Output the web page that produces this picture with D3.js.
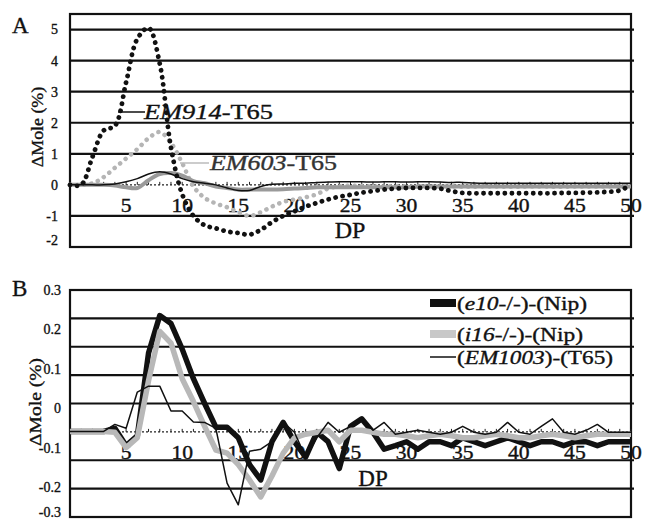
<!DOCTYPE html>
<html>
<head>
<meta charset="utf-8">
<script src="https://cdn.jsdelivr.net/npm/d3@7"></script>
<style>
  body { margin: 0; background: #fff; }
  text { font-family: "Liberation Serif", "Times New Roman", serif; fill: #111; stroke: #111; stroke-width: 0.35px; }
</style>
</head>
<body>
<svg id="chart" width="645" height="522"></svg>
<script>
// DP 0..50
var dp = d3.range(0, 51);
var xTicks = [5, 10, 15, 20, 25, 30, 35, 40, 45, 50];

// panel A, Δ mole %
var em914 = [0, 0, 0.9, 1.75, 1.9, 3.3, 4.7, 5.05, 3.9, 1.2,
  -0.3, -1.0, -1.3, -1.4, -1.5, -1.55, -1.6, -1.45, -1.2, -1.0,
  -0.85, -0.7, -0.58, -0.47, -0.38, -0.32, -0.25, -0.2, -0.15, -0.12,
  -0.1, -0.1, -0.1, -0.12, -0.2, -0.26, -0.27, -0.27, -0.27, -0.27,
  -0.27, -0.27, -0.27, -0.27, -0.26, -0.26, -0.25, -0.24, -0.22, -0.18, 0];
var em603 = [0, 0, 0.05, 0.25, 0.55, 0.85, 1.15, 1.5, 1.7, 1.35,
  0.7, -0.05, -0.42, -0.6, -0.72, -0.88, -1.0, -0.88, -0.7, -0.55,
  -0.47, -0.4, -0.3, -0.12, -0.05, -0.03, -0.04, -0.05, -0.05, -0.04,
  -0.05, -0.05, -0.06, -0.05, -0.05, -0.06, -0.06, -0.05, -0.05, -0.06,
  -0.06, -0.05, -0.05, -0.06, -0.06, -0.05, -0.05, -0.05, -0.05, -0.04, -0.03];
var aBlack = [0, 0, 0, 0, 0.03, 0.1, 0.2, 0.35, 0.42, 0.35,
  0.2, 0.1, 0.05, 0, -0.1, -0.18, -0.18, -0.05, 0.02, 0.03,
  0.05, 0.05, 0.08, 0.09, 0.1, 0.1, 0.1, 0.09, 0.1, 0.1,
  0.09, 0.1, 0.1, 0.09, 0.08, 0.08, 0.06, 0.05, 0.05, 0.05,
  0.05, 0.05, 0.05, 0.05, 0.05, 0.05, 0.05, 0.05, 0.05, 0.05, 0.05];
var aGray = [0, 0, 0, 0, -0.02, -0.08, -0.1, 0.15, 0.35, 0.38,
  0.3, 0.12, 0.05, -0.05, -0.1, -0.15, -0.15, -0.15, -0.15, -0.14,
  -0.12, -0.1, -0.08, -0.08, -0.08, -0.08, -0.08, -0.08, -0.08, -0.08,
  -0.08, -0.05, -0.05, -0.05, -0.05, -0.05, -0.05, -0.05, -0.05, -0.05,
  -0.05, -0.05, -0.05, -0.05, -0.05, -0.05, -0.05, -0.05, -0.05, -0.05, -0.05];
var yTicksA = [5, 4, 3, 2, 1, 0, -1, -2];
var gridA = [5, 4, 3, 2, 1, -1];

// panel B, Δ mole %
var e10 = [-0.059, -0.059, -0.059, -0.059, -0.051, -0.095, -0.07, 0.14, 0.235, 0.215,
  0.15, 0.075, 0.012, -0.048, -0.048, -0.075, -0.143, -0.182, -0.085, -0.036,
  -0.085, -0.124, -0.061, -0.085, -0.153, -0.046, -0.027, -0.061, -0.104, -0.095,
  -0.085, -0.104, -0.085, -0.085, -0.095, -0.075, -0.085, -0.095, -0.085, -0.075,
  -0.085, -0.095, -0.085, -0.085, -0.095, -0.085, -0.085, -0.095, -0.085, -0.085, -0.085];
var i16 = [-0.059, -0.059, -0.059, -0.059, -0.061, -0.1, -0.075, 0.07, 0.195, 0.165,
  0.075, 0.017, -0.046, -0.106, -0.114, -0.143, -0.182, -0.225, -0.172, -0.114,
  -0.075, -0.066, -0.061, -0.056, -0.085, -0.056, -0.056, -0.061, -0.066, -0.066,
  -0.07, -0.075, -0.07, -0.066, -0.07, -0.075, -0.075, -0.07, -0.066, -0.07,
  -0.075, -0.075, -0.07, -0.066, -0.07, -0.075, -0.07, -0.066, -0.066, -0.066, -0.066];
var em1003 = [-0.059, -0.059, -0.059, -0.059, -0.041, -0.051, 0.041, 0.056, 0.056, -0.007,
  -0.007, -0.035, -0.036, -0.051, -0.19, -0.245, -0.109, -0.104, -0.085, -0.036,
  -0.061, -0.124, -0.075, -0.036, -0.061, -0.046, -0.027, -0.056, -0.036, -0.066,
  -0.061, -0.056, -0.061, -0.066, -0.061, -0.046, -0.061, -0.066, -0.061, -0.036,
  -0.061, -0.066, -0.046, -0.027, -0.061, -0.066, -0.056, -0.041, -0.061, -0.061, -0.061];
var yTicksB = [0.3, 0.2, 0.1, 0, -0.1, -0.2, -0.3];
var gridB = [0.228, 0.156, 0.084, 0.012, -0.132, -0.204];
var axisB = -0.06;

var svg = d3.select("#chart");

var x = d3.scaleLinear().domain([0, 50]).range([70, 631]);
var yA = d3.scaleLinear().domain([-2, 5.5]).range([247, 14]);
var yB = d3.scaleLinear().domain([-0.276, 0.3]).range([517, 290]);

function frame(g, y, top, bottom, grid, axisVal) {
  g.selectAll("line.grid")
    .data(grid)
    .enter().append("line")
    .attr("class", "grid")
    .attr("x1", x(0)).attr("x2", x(50) + 3)
    .attr("y1", y).attr("y2", y)
    .attr("stroke", "#111").attr("stroke-width", 2.2);

  g.append("rect")
    .attr("x", x(0)).attr("y", y(top))
    .attr("width", x(50) - x(0)).attr("height", y(bottom) - y(top))
    .attr("fill", "none").attr("stroke", "#111").attr("stroke-width", 2.2);

  // category axis crossing at axisVal
  g.append("line")
    .attr("x1", x(0)).attr("x2", x(50))
    .attr("y1", y(axisVal)).attr("y2", y(axisVal))
    .attr("stroke", "#222").attr("stroke-width", 1.3)
    .attr("stroke-dasharray", "2,2");
  g.selectAll("line.tick")
    .data(dp)
    .enter().append("line")
    .attr("class", "tick")
    .attr("x1", x).attr("x2", x)
    .attr("y1", y(axisVal) - 3).attr("y2", y(axisVal))
    .attr("stroke", "#222").attr("stroke-width", 1);

  g.selectAll("text.xt")
    .data(xTicks)
    .enter().append("text")
    .attr("class", "xt")
    .attr("transform", function(d) { return "translate(" + x(d) + "," + (y(axisVal) + 21) + ") scale(1.2,1)"; })
    .attr("text-anchor", "middle")
    .attr("dy", "0.35em")
    .style("font-size", "18px")
    .text(function(d) { return d; });
}

function series(g, y, values, color, width, dotted, curve) {
  var line = d3.line()
    .x(function(d, i) { return x(dp[i]); })
    .y(function(d) { return y(d); })
    .curve(curve || d3.curveLinear);
  var p = g.append("path")
    .attr("d", line(values))
    .attr("fill", "none")
    .attr("stroke", color)
    .attr("stroke-width", width)
    .attr("stroke-linejoin", "round");
  if (dotted) {
    p.attr("stroke-dasharray", "0.1,7").attr("stroke-linecap", "round");
  }
}

// ---- panel A ----
var gA = svg.append("g");
frame(gA, yA, 5.5, -2, gridA, 0);

gA.selectAll("text.yt")
  .data(yTicksA)
  .enter().append("text")
  .attr("class", "yt")
  .attr("x", 58).attr("y", function(d) { return Math.min(yA(d), 240); })
  .attr("dy", "0.35em")
  .attr("text-anchor", "end")
  .style("font-size", "14px")
  .text(function(d) { return d; });

series(gA, yA, em603, "#b5b5b5", 4.5, true, d3.curveCatmullRom);
series(gA, yA, aGray, "#9a9a9a", 4, false, d3.curveCatmullRom);
series(gA, yA, aBlack, "#111", 1.5, false, d3.curveCatmullRom);
series(gA, yA, em914, "#111", 4.8, true, d3.curveCatmullRom);

// annotations
gA.append("line").attr("x1", 118).attr("x2", 145).attr("y1", 112).attr("y2", 112)
  .attr("stroke", "#111").attr("stroke-width", 1.5);
var t914 = gA.append("text")
  .attr("x", 144).attr("y", 112)
  .attr("textLength", 129).attr("lengthAdjust", "spacingAndGlyphs")
  .attr("dy", "0.35em").style("font-size", "21px");
t914.append("tspan").style("font-style", "italic").text("EM914");
t914.append("tspan").text("-T65");

gA.append("line").attr("x1", 180).attr("x2", 209).attr("y1", 163).attr("y2", 163)
  .attr("stroke", "#bbb").attr("stroke-width", 1.5);
var t603 = gA.append("text")
  .attr("x", 210).attr("y", 163)
  .attr("textLength", 127).attr("lengthAdjust", "spacingAndGlyphs")
  .attr("dy", "0.35em").style("font-size", "21px").style("fill", "#333").style("stroke", "#333");
t603.append("tspan").style("font-style", "italic").text("EM603");
t603.append("tspan").text("-T65");

gA.append("text").attr("x", 350).attr("y", 230).attr("dy", "0.35em")
  .attr("text-anchor", "middle").style("font-size", "24px").text("DP");
gA.append("text").attr("x", 12).attr("y", 25).attr("dy", "0.35em")
  .style("font-size", "23px").text("A");
gA.append("text")
  .attr("transform", "translate(37,127) rotate(-90) scale(1.05,1)")
  .attr("text-anchor", "middle").attr("dy", "0.35em")
  .style("font-size", "17px").text("\u0394Mole (%)");

// ---- panel B ----
var gB = svg.append("g");
frame(gB, yB, 0.3, -0.276, gridB, axisB);

gB.selectAll("text.yt")
  .data(yTicksB)
  .enter().append("text")
  .attr("class", "yt")
  .attr("x", 61).attr("y", function(d) { return Math.min(yB(d), 512); })
  .attr("dy", "0.35em")
  .attr("text-anchor", "end")
  .style("font-size", "14px")
  .text(function(d) { return d; });

series(gB, yB, e10, "#111", 5.5, false);
series(gB, yB, i16, "#b8b8b8", 5.5, false);
series(gB, yB, em1003, "#111", 1.5, false);

gB.append("text").attr("x", 373).attr("y", 478).attr("dy", "0.35em")
  .attr("text-anchor", "middle").style("font-size", "23px").text("DP");
gB.append("text").attr("x", 12).attr("y", 288).attr("dy", "0.35em")
  .style("font-size", "23px").text("B");
gB.append("text")
  .attr("transform", "translate(35,402) rotate(-90) scale(1.15,1)")
  .attr("text-anchor", "middle").attr("dy", "0.35em")
  .style("font-size", "17px").text("\u0394Mole (%)");

// legend
var legendKeys = [
  { pre: "(", it: "e10", post: "-/-)-(Nip)", color: "#111", w: 8, y: 303, len: 130 },
  { pre: "(", it: "i16", post: "-/-)-(Nip)", color: "#c8c8c8", w: 8, y: 334, len: 126 },
  { pre: "(", it: "EM1003", post: ")-(T65)", color: "#111", w: 1.5, y: 357, len: 156 }
];
var lg = gB.selectAll("g.leg")
  .data(legendKeys)
  .enter().append("g").attr("class", "leg");
lg.append("line")
  .attr("x1", 430).attr("x2", 456)
  .attr("y1", function(d) { return d.y; }).attr("y2", function(d) { return d.y; })
  .attr("stroke", function(d) { return d.color; })
  .attr("stroke-width", function(d) { return d.w; });
var lt = lg.append("text")
  .attr("x", 457).attr("y", function(d) { return d.y; })
  .attr("textLength", function(d) { return d.len; })
  .attr("lengthAdjust", "spacingAndGlyphs")
  .attr("dy", "0.35em").style("font-size", "19px");
lt.append("tspan").text(function(d) { return d.pre; });
lt.append("tspan").style("font-style", "italic").text(function(d) { return d.it; });
lt.append("tspan").text(function(d) { return d.post; });
</script>
</body>
</html>
